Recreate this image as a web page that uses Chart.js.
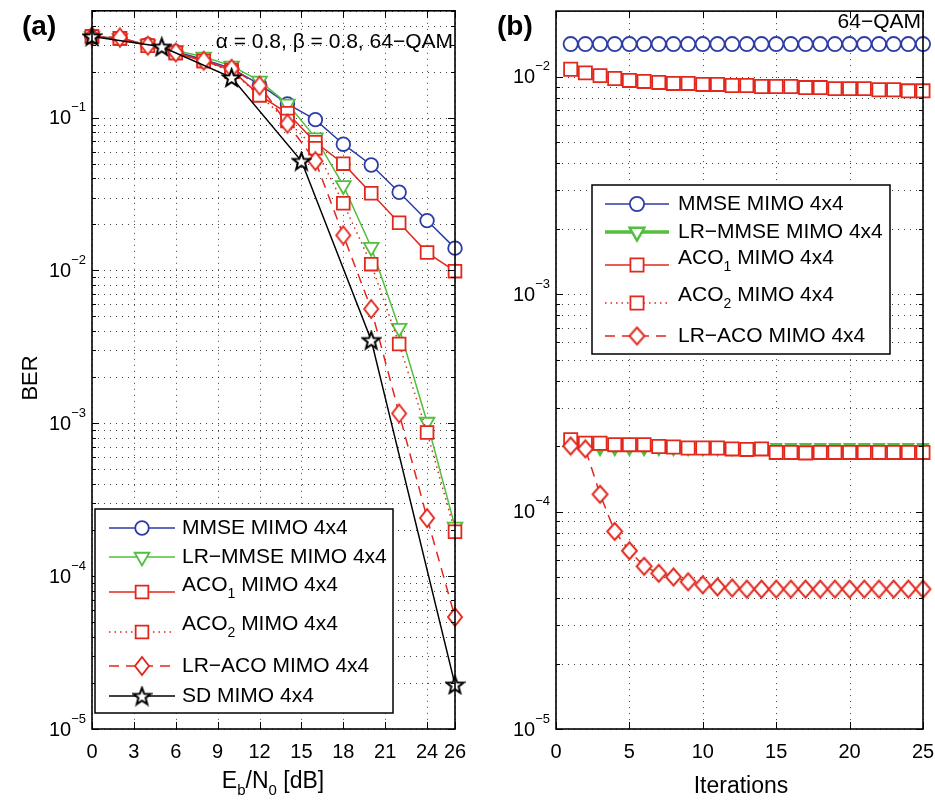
<!DOCTYPE html>
<html lang="en">
<head>
<meta charset="UTF-8">
<title>BER comparison</title>
<script src="https://cdn.jsdelivr.net/npm/chart.js@4.4.0/dist/chart.umd.min.js"></script>
<style>
  body { margin: 0; background: #fff; }
  .wrap { position: relative; width: 935px; height: 805px; }
  #chartA { position: absolute; left: 0; top: 0; }
  #chartB { position: absolute; left: 470px; top: 0; }
</style>
</head>
<body>
<div class="wrap">
  <canvas id="chartA" width="470" height="805"></canvas>
  <canvas id="chartB" width="465" height="805"></canvas>
</div>
<script>
// ---- panel (a): BER vs Eb/N0 ----
const snrA     = [0, 2, 4, 6, 8, 10, 12, 14, 16, 18, 20, 22, 24, 26];
const mmseA    = [0.34, 0.33, 0.30, 0.27, 0.24, 0.21, 0.165, 0.123, 0.097, 0.067, 0.049, 0.0325, 0.0212, 0.014];
const lrMmseA  = [0.34, 0.33, 0.30, 0.275, 0.25, 0.218, 0.174, 0.123, 0.074, 0.036, 0.0142, 0.0042, 0.00102, 0.00021];
const aco1A    = [0.34, 0.33, 0.295, 0.265, 0.235, 0.205, 0.14, 0.107, 0.069, 0.05, 0.032, 0.0205, 0.0131, 0.0099];
const aco2A    = [0.34, 0.33, 0.295, 0.265, 0.235, 0.2, 0.14, 0.095, 0.063, 0.0275, 0.011, 0.0033, 0.00087, 0.000195];
const lrAcoA   = [0.34, 0.335, 0.296, 0.267, 0.236, 0.209, 0.162, 0.0913, 0.052, 0.017, 0.0056, 0.00116, 0.00024, 0.000054];
const snrSD    = [0, 5, 10, 15, 20, 26];
const sdA      = [0.34, 0.291, 0.183, 0.052, 0.0035, 0.0000195];
const xTicksA  = [0, 3, 6, 9, 12, 15, 18, 21, 24, 26];

// ---- panel (b): BER vs iterations ----
const iters   = [1, 2, 3, 4, 5, 6, 7, 8, 9, 10, 11, 12, 13, 14, 15, 16, 17, 18, 19, 20, 21, 22, 23, 24, 25];
const mmseB   = [0.0141, 0.0141, 0.0141, 0.0141, 0.0141, 0.0141, 0.0141, 0.0141, 0.0141, 0.0141, 0.0141, 0.0141, 0.0141,
                 0.0141, 0.0141, 0.0141, 0.0141, 0.0141, 0.0141, 0.0141, 0.0141, 0.0141, 0.0141, 0.0141, 0.0141];
const lrMmseB = [2.0e-4, 1.93e-4, 1.93e-4, 1.93e-4, 1.93e-4, 1.93e-4, 1.93e-4, 1.93e-4, 1.93e-4, 1.93e-4, 1.93e-4, 1.93e-4, 1.93e-4,
                 1.98e-4, 1.98e-4, 1.98e-4, 1.98e-4, 1.98e-4, 1.98e-4, 1.98e-4, 1.98e-4, 1.98e-4, 1.98e-4, 1.98e-4, 1.98e-4];
const aco1B   = [0.0108, 0.0104, 0.0101, 0.0098, 0.0096, 0.0095, 0.0094, 0.0093, 0.0093, 0.0092, 0.0092, 0.0091, 0.0091,
                 0.0090, 0.0090, 0.0090, 0.0089, 0.0089, 0.0088, 0.0088, 0.0088, 0.0087, 0.0087, 0.0086, 0.0086];
const aco2B   = [2.14e-4, 2.06e-4, 2.06e-4, 2.03e-4, 2.03e-4, 2.03e-4, 1.99e-4, 1.98e-4, 1.96e-4, 1.96e-4, 1.96e-4, 1.94e-4, 1.93e-4,
                 1.94e-4, 1.87e-4, 1.87e-4, 1.86e-4, 1.87e-4, 1.87e-4, 1.87e-4, 1.87e-4, 1.87e-4, 1.87e-4, 1.87e-4, 1.87e-4];
const lrAcoB  = [2.0e-4, 1.94e-4, 1.2e-4, 8.1e-5, 6.6e-5, 5.6e-5, 5.2e-5, 5.0e-5, 4.75e-5, 4.6e-5, 4.5e-5, 4.45e-5, 4.4e-5,
                 4.4e-5, 4.4e-5, 4.4e-5, 4.4e-5, 4.4e-5, 4.4e-5, 4.4e-5, 4.4e-5, 4.4e-5, 4.4e-5, 4.4e-5, 4.4e-5];
const xTicksB = [0, 5, 10, 15, 20, 25];

const FONT = '"Liberation Sans", Arial, Helvetica, sans-serif';
const BLUE = '#2b3ca6', GREEN = '#52bf3e', RED = '#e2271d', BLACK = '#000';

// pentagram marker for SD
function makeStar(size) {
  const c = document.createElement('canvas');
  c.width = size; c.height = size;
  const g = c.getContext('2d');
  const R = size / 2 - 1.5, r = R * 0.42, cx = size / 2, cy = size / 2 + 0.8;
  g.beginPath();
  for (let i = 0; i < 10; i++) {
    const rad = (i % 2 ? r : R), ang = -Math.PI / 2 + i * Math.PI / 5;
    g.lineTo(cx + rad * Math.cos(ang), cy + rad * Math.sin(ang));
  }
  g.closePath();
  g.fillStyle = '#fff'; g.fill();
  g.lineWidth = 2; g.strokeStyle = '#000'; g.stroke();
  return c;
}

// matlab diamonds are a bit taller than wide
function makeDiamond(w, h, color) {
  const c = document.createElement('canvas');
  c.width = w + 4; c.height = h + 4;
  const g = c.getContext('2d');
  const cx = c.width / 2, cy = c.height / 2;
  g.beginPath();
  g.moveTo(cx, cy - h / 2); g.lineTo(cx + w / 2, cy); g.lineTo(cx, cy + h / 2); g.lineTo(cx - w / 2, cy);
  g.closePath();
  g.fillStyle = '#fff'; g.fill();
  g.lineWidth = 1.9; g.strokeStyle = color; g.stroke();
  return c;
}
const starImg = makeStar(21);
const diamondA = makeDiamond(14, 18, RED);
const diamondB = makeDiamond(15, 17, RED);

function series(label, xs, ys, color, style, extra) {
  return Object.assign({
    label,
    data: xs.map((x, i) => ({ x, y: ys[i] })),
    borderColor: color,
    borderWidth: 1.5,
    pointStyle: style,
    pointRadius: 7,
    pointBorderWidth: 1.8,
    pointBorderColor: color,
    pointBackgroundColor: '#fff',
    tension: 0,
    clip: false
  }, extra || {});
}

function drawRich(ctx, parts, x, y, align) {
  let w = 0;
  parts.forEach(p => { ctx.font = (p.bold ? 'bold ' : '') + p.size + 'px ' + FONT; p.w = ctx.measureText(p.t).width; w += p.w; });
  let cx = align === 'right' ? x - w : align === 'center' ? x - w / 2 : x;
  ctx.textAlign = 'left';
  ctx.textBaseline = 'middle';
  parts.forEach(p => {
    ctx.font = (p.bold ? 'bold ' : '') + p.size + 'px ' + FONT;
    ctx.fillText(p.t, cx, y + (p.dy || 0));
    cx += p.w;
  });
}

function logTicks(min, max) {
  const out = [];
  for (let e = Math.floor(Math.log10(min)); e <= Math.ceil(Math.log10(max)); e++) {
    for (let m = 1; m <= 9; m++) {
      const v = m * Math.pow(10, e);
      if (v >= min * 0.999 && v <= max * 1.001) out.push({ v, e, major: m === 1 });
    }
  }
  return out;
}

function drawMarker(ctx, ds, x, y, over) {
  const o = Object.assign({
    pointStyle: ds.pointStyle, radius: ds.pointRadius, rotation: ds.pointRotation || 0,
    borderWidth: ds.pointBorderWidth
  }, over || {});
  ctx.save();
  ctx.fillStyle = (over && over.fill) || ds.pointBackgroundColor;
  ctx.strokeStyle = ds.pointBorderColor;
  ctx.lineWidth = o.borderWidth;
  ctx.setLineDash([]);
  Chart.helpers.drawPoint(ctx, o, x, y);
  ctx.restore();
}

const matlabAxes = {
  id: 'matlabAxes',
  beforeDatasetsDraw(chart, args, o) {
    const { ctx, chartArea: a, scales: { x, y } } = chart;
    ctx.save();
    ctx.strokeStyle = 'rgba(0,0,0,0.75)';
    ctx.lineWidth = 1;
    ctx.setLineDash([1, 5]);
    o.xTicks.forEach(v => {
      const px = Math.round(x.getPixelForValue(v)) + 0.5;
      ctx.beginPath(); ctx.moveTo(px, a.top); ctx.lineTo(px, a.bottom); ctx.stroke();
    });
    logTicks(y.min, y.max).forEach(t => {
      const py = Math.round(y.getPixelForValue(t.v)) + 0.5;
      ctx.beginPath(); ctx.moveTo(a.left, py); ctx.lineTo(a.right, py); ctx.stroke();
    });
    ctx.restore();
  },
  afterDatasetsDraw(chart, args, o) {
    const { ctx, chartArea: a, scales: { x, y } } = chart;
    const off = o.offsetX;
    ctx.save();
    ctx.strokeStyle = '#000';
    ctx.fillStyle = '#000';
    ctx.lineWidth = 1;
    // tick marks, inward on all sides
    o.xTicks.forEach(v => {
      const px = Math.round(x.getPixelForValue(v)) + 0.5;
      ctx.beginPath();
      ctx.moveTo(px, a.bottom); ctx.lineTo(px, a.bottom - 7);
      ctx.moveTo(px, a.top); ctx.lineTo(px, a.top + 7);
      ctx.stroke();
    });
    logTicks(y.min, y.max).forEach(t => {
      const py = Math.round(y.getPixelForValue(t.v)) + 0.5;
      const len = t.major ? 7 : 4;
      ctx.beginPath();
      ctx.moveTo(a.left, py); ctx.lineTo(a.left + len, py);
      ctx.moveTo(a.right, py); ctx.lineTo(a.right - len, py);
      ctx.stroke();
    });
    // box
    ctx.lineWidth = 1.6;
    ctx.strokeRect(a.left, a.top, a.right - a.left, a.bottom - a.top);

    // tick labels
    o.xTicks.forEach(v => {
      ctx.font = '20px ' + FONT;
      ctx.textAlign = 'center';
      ctx.textBaseline = 'middle';
      ctx.fillText(String(v), x.getPixelForValue(v), a.bottom + 23);
    });
    logTicks(y.min, y.max).filter(t => t.major).forEach(t => {
      const py = y.getPixelForValue(t.v);
      drawRich(ctx, [{ t: '10', size: 20 }, { t: '\u2212' + (-t.e), size: 13, dy: -11 }], a.left - 6, py + 1, 'right');
    });

    // free texts
    (o.texts || []).forEach(tx => drawRich(ctx, tx.parts, tx.x - off, tx.y, tx.align));

    // legend
    const L = o.legend;
    ctx.fillStyle = '#fff';
    ctx.fillRect(L.x0 - off, L.y0, L.x1 - L.x0, L.y1 - L.y0);
    ctx.lineWidth = 1.5;
    ctx.strokeStyle = '#000';
    ctx.strokeRect(L.x0 - off, L.y0, L.x1 - L.x0, L.y1 - L.y0);
    L.rows.forEach(r => {
      const ds = chart.data.datasets[r.ds];
      ctx.save();
      ctx.strokeStyle = ds.borderColor;
      ctx.lineWidth = r.lw || ds.borderWidth;
      ctx.setLineDash(ds.borderDash || []);
      ctx.beginPath();
      ctx.moveTo(L.lx0 - off, r.ly); ctx.lineTo(L.lx1 - off, r.ly);
      ctx.stroke();
      ctx.restore();
      drawMarker(ctx, ds, (L.lx0 + L.lx1) / 2 - off, r.ly, r.marker);
      ctx.fillStyle = '#000';
      drawRich(ctx, r.parts, L.tx - off, r.ty, 'left');
    });
    ctx.restore();
  }
};

function sub(base, s, rest) {
  return [{ t: base, size: 21 }, { t: s, size: 14, dy: 9 }, { t: rest, size: 21 }];
}

function baseOptions(xmin, xmax, ymin, ymax, rightPad, plug) {
  return {
    responsive: false,
    animation: false,
    layout: { padding: { left: 0, right: rightPad, top: 10, bottom: 0 } },
    plugins: { legend: { display: false }, tooltip: { enabled: false }, matlabAxes: plug },
    scales: {
      x: {
        type: 'linear', min: xmin, max: xmax,
        grid: { display: false }, border: { display: false }, ticks: { display: false },
        afterFit(s) { s.height = 76; }
      },
      y: {
        type: 'logarithmic', min: ymin, max: ymax,
        grid: { display: false }, border: { display: false }, ticks: { display: false },
        afterFit(s) { s.width = plug.axisW; }
      }
    }
  };
}

// ---- chart (a) ----
const dsA = [
  series('MMSE MIMO 4x4', snrA, mmseA, BLUE, 'circle', { pointRadius: 6.8, order: 0 }),
  series('LR-MMSE MIMO 4x4', snrA, lrMmseA, GREEN, 'triangle', { pointRotation: 180, pointRadius: 8.5, order: -1 }),
  series('ACO1 MIMO 4x4', snrA, aco1A, RED, 'rect', { pointRadius: 9, order: -2 }),
  series('ACO2 MIMO 4x4', snrA, aco2A, RED, 'rect', { pointRadius: 9, borderDash: [1.5, 4], order: -3 }),
  series('LR-ACO MIMO 4x4', snrA, lrAcoA, RED, diamondA, { borderDash: [10, 7], order: -4 }),
  series('SD MIMO 4x4', snrSD, sdA, BLACK, starImg, { order: -5 })
];

new Chart(document.getElementById('chartA'), {
  type: 'line',
  data: { datasets: dsA },
  options: baseOptions(0, 26, 1e-5, 0.5, 15, {
    offsetX: 0, axisW: 92, xTicks: xTicksA,
    texts: [
      { x: 22, y: 27, align: 'left', parts: [{ t: '(a)', size: 28, bold: true }] },
      { x: 453, y: 42, align: 'right', parts: [{ t: '\u03b1 = 0.8, \u03b2 = 0.8, 64\u2212QAM', size: 21 }] },
      { x: 273, y: 782, align: 'center', parts: [{ t: 'E', size: 23 }, { t: 'b', size: 15, dy: 9 }, { t: '/N', size: 23 }, { t: '0', size: 15, dy: 9 }, { t: ' [dB]', size: 23 }] }
    ],
    legend: {
      x0: 95, y0: 509, x1: 393, y1: 713, lx0: 109, lx1: 175, tx: 182,
      rows: [
        { ds: 0, ly: 528, ty: 528, parts: [{ t: 'MMSE MIMO 4x4', size: 21 }] },
        { ds: 1, ly: 557, ty: 557, parts: [{ t: 'LR\u2212MMSE MIMO 4x4', size: 21 }] },
        { ds: 2, ly: 592, ty: 585, parts: sub('ACO', '1', ' MIMO 4x4') },
        { ds: 3, ly: 632, ty: 624, parts: sub('ACO', '2', ' MIMO 4x4') },
        { ds: 4, ly: 666, ty: 666, parts: [{ t: 'LR\u2212ACO MIMO 4x4', size: 21 }] },
        { ds: 5, ly: 696, ty: 696, parts: [{ t: 'SD MIMO 4x4', size: 21 }] }
      ]
    }
  }),
  plugins: [matlabAxes]
});

// ---- chart (b) ----
const dsB = [
  series('MMSE MIMO 4x4', iters, mmseB, BLUE, 'circle', { pointRadius: 7.1, order: 0 }),
  series('LR-MMSE MIMO 4x4', iters, lrMmseB, GREEN, 'triangle', { pointRotation: 180, pointRadius: 6, pointBackgroundColor: GREEN, borderWidth: 3, order: -1 }),
  series('ACO1 MIMO 4x4', iters, aco1B, RED, 'rect', { pointRadius: 9.3, order: -2 }),
  series('ACO2 MIMO 4x4', iters, aco2B, RED, 'rect', { pointRadius: 9.3, borderDash: [1.5, 4], order: -3 }),
  series('LR-ACO MIMO 4x4', iters, lrAcoB, RED, diamondB, { borderDash: [10, 7], order: -4 })
];

new Chart(document.getElementById('chartB'), {
  type: 'line',
  data: { datasets: dsB },
  options: baseOptions(0, 25, 1e-5, 0.02, 12, {
    offsetX: 470, axisW: 86, xTicks: xTicksB,
    texts: [
      { x: 497, y: 27, align: 'left', parts: [{ t: '(b)', size: 28, bold: true }] },
      { x: 921, y: 22, align: 'right', parts: [{ t: '64\u2212QAM', size: 21 }] },
      { x: 741, y: 787, align: 'center', parts: [{ t: 'Iterations', size: 23 }] }
    ],
    legend: {
      x0: 592, y0: 185, x1: 890, y1: 354, lx0: 605, lx1: 669, tx: 678,
      rows: [
        { ds: 0, ly: 204, ty: 204, parts: [{ t: 'MMSE MIMO 4x4', size: 21 }] },
        { ds: 1, ly: 232, ty: 232, lw: 3.5, marker: { radius: 8.5, borderWidth: 2.5, fill: '#fff' }, parts: [{ t: 'LR\u2212MMSE MIMO 4x4', size: 21 }] },
        { ds: 2, ly: 265, ty: 258, parts: sub('ACO', '1', ' MIMO 4x4') },
        { ds: 3, ly: 303, ty: 295, parts: sub('ACO', '2', ' MIMO 4x4') },
        { ds: 4, ly: 336, ty: 336, parts: [{ t: 'LR\u2212ACO MIMO 4x4', size: 21 }] }
      ]
    }
  }),
  plugins: [matlabAxes]
});

// y axis title of panel (a)
(function () {
  const ctx = document.getElementById('chartA').getContext('2d');
  ctx.save();
  ctx.translate(31, 378);
  ctx.rotate(-Math.PI / 2);
  ctx.font = '22px ' + FONT;
  ctx.fillStyle = '#000';
  ctx.textAlign = 'center';
  ctx.textBaseline = 'middle';
  ctx.fillText('BER', 0, 0);
  ctx.restore();
})();
</script>
</body>
</html>
